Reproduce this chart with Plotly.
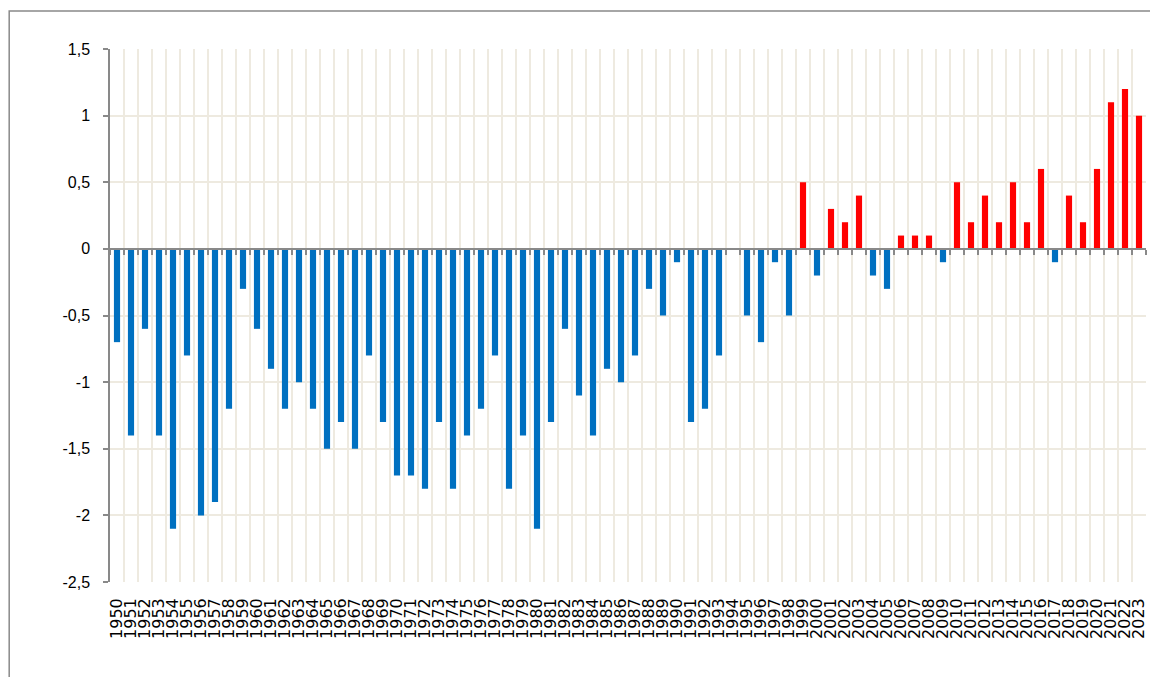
import plotly.graph_objects as go

years = [str(y) for y in range(1950, 2024)]
anomaly = [
    -0.7, -1.4, -0.6, -1.4, -2.1, -0.8, -2.0, -1.9, -1.2, -0.3,
    -0.6, -0.9, -1.2, -1.0, -1.2, -1.5, -1.3, -1.5, -0.8, -1.3,
    -1.7, -1.7, -1.8, -1.3, -1.8, -1.4, -1.2, -0.8, -1.8, -1.4,
    -2.1, -1.3, -0.6, -1.1, -1.4, -0.9, -1.0, -0.8, -0.3, -0.5,
    -0.1, -1.3, -1.2, -0.8, 0.0, -0.5, -0.7, -0.1, -0.5, 0.5,
    -0.2, 0.3, 0.2, 0.4, -0.2, -0.3, 0.1, 0.1, 0.1, -0.1,
    0.5, 0.2, 0.4, 0.2, 0.5, 0.2, 0.6, -0.1, 0.4, 0.2,
    0.6, 1.1, 1.2, 1.0,
]
y_tickvals = [-2.5, -2.0, -1.5, -1.0, -0.5, 0.0, 0.5, 1.0, 1.5]
y_ticktext = ["-2,5", "-2", "-1,5", "-1", "-0,5", "0", "0,5", "1", "1,5"]

BLUE = "#0070C0"
RED = "#FF0000"
GRID = "#EEEAE0"
AXIS = "#898989"

colors = [RED if v > 0 else BLUE for v in anomaly]

fig = go.Figure()
fig.add_trace(go.Bar(
    x=years, y=anomaly, marker=dict(color=colors, line=dict(width=0)),
    showlegend=False, hoverinfo="x+y",
))
# invisible trace to carry the zero-crossing category axis
fig.add_trace(go.Scatter(
    x=years, y=[0] * len(years), xaxis="x2", mode="markers",
    marker=dict(opacity=0), showlegend=False, hoverinfo="skip",
))

W, H = 1150, 677
ml, mr, mt, mb = 110, 2, 49, 95
ymin, ymax = -2.5, 1.5
zero_pos = (0 - ymin) / (ymax - ymin)
pw, ph = W - ml - mr, H - mt - mb

fig.update_layout(
    width=W, height=H,
    margin=dict(l=ml, r=mr, t=mt, b=mb),
    paper_bgcolor="white", plot_bgcolor="white",
    bargap=0.56,
    font=dict(family="Liberation Sans, Arial, sans-serif", color="#000000"),
    xaxis=dict(
        type="category", categoryorder="array", categoryarray=years,
        range=[-0.5, len(years) - 0.5],
        tickmode="array", tickvals=years, ticktext=years,
        tickangle=-90, tickfont=dict(family="DejaVu Sans", size=16, color="#000000"),
        showgrid=True, gridcolor=GRID, gridwidth=2, tickson="boundaries",
        ticks="", showline=False, zeroline=False,
        ticklabelstandoff=12,
    ),
    xaxis2=dict(
        type="category", categoryorder="array", categoryarray=years,
        range=[-0.5, len(years) - 0.5],
        tickmode="array", tickvals=years,
        overlaying="x", anchor="free", position=zero_pos, side="bottom",
        showline=True, linecolor=AXIS, linewidth=1.5,
        ticks="outside", ticklen=5, tickcolor=AXIS, tickwidth=1.5,
        tickson="boundaries", showticklabels=False, showgrid=False, zeroline=False,
    ),
    yaxis=dict(
        range=[ymin, ymax], tickvals=y_tickvals, ticktext=y_ticktext,
        showgrid=True, gridcolor=GRID, gridwidth=2,
        showline=True, linecolor=AXIS, linewidth=1.5,
        ticks="outside", ticklen=5, tickcolor=AXIS, tickwidth=1.5,
        zeroline=False,
        tickfont=dict(family="Liberation Sans", size=16, color="#000000"),
        ticklabelstandoff=10,
    ),
    shapes=[dict(
        type="rect", xref="paper", yref="paper",
        x0=(9 - ml) / pw, x1=1.3,
        y0=-0.5, y1=(mt + ph - 11) / ph,
        line=dict(color=AXIS, width=1.5), fillcolor="rgba(0,0,0,0)", layer="below",
    )],
)

fig.write_html(
    "out.html",
    config={"displayModeBar": False},
    post_script="document.body.style.margin='0';document.body.style.overflow='hidden';",
)
